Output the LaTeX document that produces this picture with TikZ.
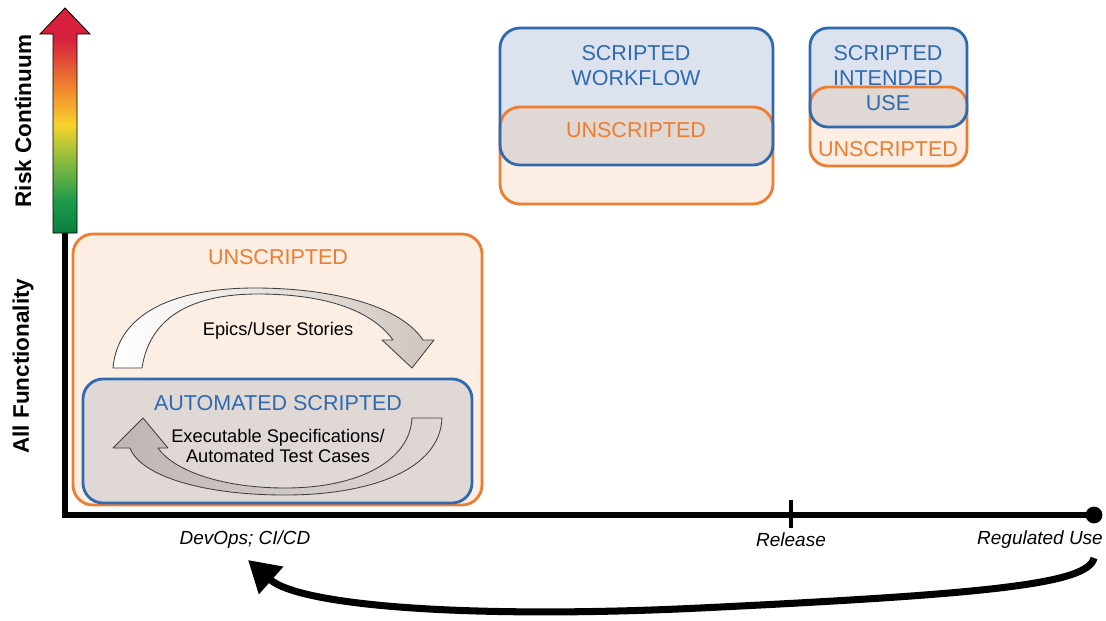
\documentclass[tikz,border=0pt]{standalone}
\usepackage{fontspec}
\setmainfont{Liberation Sans}
\usetikzlibrary{arrows.meta}

\definecolor{scrblue}{HTML}{2F6AB0}
\definecolor{scrbluefill}{HTML}{DCE3EF}
\definecolor{unsorange}{HTML}{ED7D31}
\definecolor{unsfill}{HTML}{FCEEE3}
\definecolor{mixfill}{HTML}{E0D8D5}
\definecolor{arrowtan}{HTML}{CFC5BD}
\definecolor{arrowgray}{HTML}{BDB6B2}
\definecolor{riskred}{HTML}{D6203E}
\definecolor{riskorange}{HTML}{EF7F2E}
\definecolor{riskyellow}{HTML}{F7D22C}
\definecolor{risklime}{HTML}{95BE3D}
\definecolor{riskgreen}{HTML}{1E9A4B}
\definecolor{riskdark}{HTML}{0A7F3E}

\pgfdeclareverticalshading{riskshade}{100bp}{color(0bp)=(riskdark); color(25bp)=(riskdark); color(32bp)=(riskgreen); color(42bp)=(risklime); color(49bp)=(riskyellow); color(58bp)=(riskorange); color(68bp)=(riskred); color(100bp)=(riskred)}

\tikzset{
  bluebox/.style={draw=scrblue, line width=2pt, rounded corners=0.5cm},
  orangebox/.style={draw=unsorange, line width=2pt, rounded corners=0.5cm},
  boxtext/.style={align=center, inner sep=0pt, font={\fontsize{15.3}{17.8}\selectfont}},
  arrowtext/.style={align=center, inner sep=0pt, font={\fontsize{13}{14}\selectfont}},
  sidelabel/.style={rotate=90, inner sep=0pt, font={\fontsize{16}{18}\selectfont\bfseries}},
  axislabel/.style={inner sep=0pt, font={\fontsize{13.5}{15}\selectfont\itshape}},
  looparrow/.style={draw=black!75, line width=0.6pt, line join=round},
  returnarrow/.style={line width=5pt, -{Triangle[length=22pt, width=25pt]}}
}

\begin{document}
\begin{tikzpicture}[x=0.025cm, y=-0.025cm]
\useasboundingbox (0,0) rectangle (1106,620);

\path[draw=black, line width=0.6pt, shading=riskshade]
  (53,233) -- (53,34) -- (40,34) -- (65,8) -- (90,34) -- (77,34) -- (77,233) -- cycle;
\node[sidelabel] (risk) at (23,121) {Risk Continuum};
\node[sidelabel] (allfunc) at (23,366) {All Functionality};

\fill[unsfill, rounded corners=0.5cm] (73,234) rectangle (482,505);
\draw[orangebox] (73,234) rectangle (482,505);
\fill[mixfill, rounded corners=0.5cm] (83,379) rectangle (472,503);
\draw[bluebox] (83,379) rectangle (472,503);
\node[boxtext, text=unsorange] (unsleft) at (278,257) {UNSCRIPTED};
\node[boxtext, text=scrblue] (autoscr) at (278,403) {AUTOMATED SCRIPTED};

\path[looparrow, left color=white, right color=arrowtan]
  (113,368) .. controls (118,310) and (180,288) .. (255,288)
  .. controls (330,288) and (400,305) .. (423,340) -- (434,340) -- (412,368) -- (382,340) -- (393,340)
  .. controls (370,308) and (320,294) .. (258,294)
  .. controls (195,294) and (150,315) .. (142,368) -- cycle;
\node[arrowtext] (epics) at (278,331) {Epics/User Stories};

\path[looparrow, left color=arrowgray, right color=mixfill]
  (412,418) -- (442,418) .. controls (440,470) and (370,495) .. (285,495)
  .. controls (200,495) and (140,475) .. (130,448) -- (113,448) -- (143,418) -- (168,448) -- (158,448)
  .. controls (175,472) and (225,488) .. (285,488)
  .. controls (360,488) and (410,460) .. (412,418) -- cycle;
\node[arrowtext] (execspec) at (278,446) {Executable Specifications/\\Automated Test Cases};

\fill[scrbluefill, rounded corners=0.5cm] (500,28) rectangle (773,165);
\fill[unsfill, rounded corners=0.5cm] (500,107) rectangle (773,204);
\begin{scope}
  \clip[rounded corners=0.5cm] (500,28) rectangle (773,165);
  \fill[mixfill, rounded corners=0.5cm] (500,107) rectangle (773,204);
\end{scope}
\draw[orangebox] (500,107) rectangle (773,204);
\draw[bluebox] (500,28) rectangle (773,165);
\node[boxtext, text=scrblue] (workflow) at (636,65.5) {SCRIPTED\\WORKFLOW};
\node[boxtext, text=unsorange] (unsmid) at (636,130) {UNSCRIPTED};

\fill[scrbluefill, rounded corners=0.45cm] (810,28) rectangle (967,127);
\fill[unsfill, rounded corners=0.45cm] (810,87) rectangle (967,166);
\begin{scope}
  \clip[rounded corners=0.45cm] (810,28) rectangle (967,127);
  \fill[mixfill, rounded corners=0.45cm] (810,87) rectangle (967,166);
\end{scope}
\draw[orangebox, rounded corners=0.45cm] (810,87) rectangle (967,166);
\draw[bluebox, rounded corners=0.45cm] (810,28) rectangle (967,127);
\node[boxtext, text=scrblue] (intended) at (888,78) {SCRIPTED\\INTENDED\\USE};
\node[boxtext, text=unsorange] (unsright) at (888,149) {UNSCRIPTED};

\coordinate (axtop) at (65,233);
\coordinate (origin) at (65,515);
\node[circle, fill=black, inner sep=0pt, minimum size=0.42cm] (regdot) at (1094,515) {};
\draw[line width=4.3pt, line join=miter] (axtop) -- (origin) -- (regdot.center);
\coordinate (reltop) at (791,500);
\coordinate (relbot) at (791,528);
\draw[line width=3pt] (reltop) -- (relbot);

\node[axislabel] (devops) at (245,540) {DevOps; CI/CD};
\node[axislabel] (release) at (791,540) {Release};
\node[axislabel] (regused) at (1040,540) {Regulated Use};

\coordinate (retstart) at (1094,558);
\coordinate (retend) at (248,560);
\draw[returnarrow] (retstart) .. controls (1088,584) and (990,594) .. (700,608)
  .. controls (470,619) and (300,606) .. (retend);
\end{tikzpicture}
\end{document}
